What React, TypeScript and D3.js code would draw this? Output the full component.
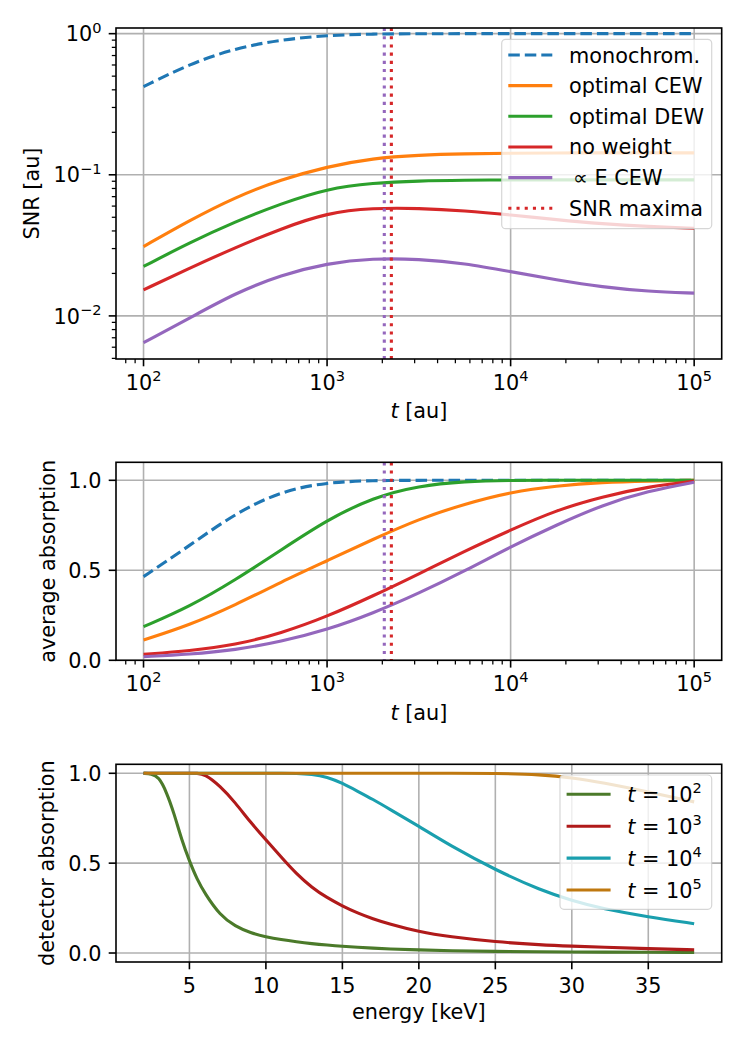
import React from "react";
import * as d3 from "d3";

const FONT = "'DejaVu Sans', sans-serif";
const FS = 20.8;
const LW = 3.1;
const GRID = "#b0b0b0";

// sample times (t in au) for the two upper panels
const tSamples = [100, 178, 316, 562, 1000, 1778, 3162, 5623, 10000, 17783, 31623, 56234, 100000];

// SNR [au]
const snrMono = [0.421, 0.61, 0.788, 0.907, 0.974, 0.995, 1.0, 1.0, 1.0, 1.0, 1.0, 1.0, 1.0];
const snrCEW = [0.031, 0.0475, 0.0695, 0.0925, 0.1143, 0.131, 0.138, 0.141, 0.142, 0.143, 0.143, 0.143, 0.143];
const snrDEW = [0.0224, 0.033, 0.0465, 0.0625, 0.0798, 0.0875, 0.0905, 0.0915, 0.092, 0.092, 0.092, 0.092, 0.092];
const snrNoWeight = [0.0153, 0.0218, 0.0305, 0.0415, 0.0538, 0.0582, 0.0579, 0.0557, 0.052, 0.048, 0.0449, 0.043, 0.0418];
const snrPropE = [0.00647, 0.00964, 0.0145, 0.0195, 0.0236, 0.0256, 0.0253, 0.0236, 0.0206, 0.018, 0.016, 0.0149, 0.0145];

// average absorption
const absMono = [0.465, 0.637, 0.817, 0.94, 0.989, 0.999, 1.0, 1.0, 1.0, 1.0, 1.0, 1.0, 1.0];
const absCEW = [0.113, 0.196, 0.307, 0.435, 0.553, 0.672, 0.785, 0.869, 0.935, 0.97, 0.989, 0.996, 1.0];
const absDEW = [0.187, 0.298, 0.446, 0.613, 0.78, 0.905, 0.97, 0.994, 1.0, 1.0, 1.0, 1.0, 1.0];
const absNoWeight = [0.033, 0.052, 0.085, 0.15, 0.243, 0.357, 0.48, 0.607, 0.724, 0.835, 0.909, 0.965, 0.996];
const absPropE = [0.02, 0.033, 0.057, 0.104, 0.169, 0.261, 0.372, 0.496, 0.631, 0.752, 0.863, 0.941, 0.989];

// positions of the SNR maxima
const maxPropE = 2050;
const maxNoWeight = 2240;

// detector absorption vs energy [keV]
const energy = [2, 2.5, 3, 3.5, 4, 4.5, 5, 5.5, 6, 7, 8, 9, 10, 11, 12, 13, 14, 15, 16, 17, 18, 20, 22, 25, 28, 30, 32, 35, 38];
const detT2 = [1.0, 0.998, 0.98, 0.896, 0.776, 0.628, 0.512, 0.41, 0.333, 0.21, 0.148, 0.112, 0.09, 0.074, 0.062, 0.052, 0.044, 0.037, 0.032, 0.027, 0.023, 0.017, 0.013, 0.009, 0.007, 0.006, 0.005, 0.004, 0.003];
const detT3 = [1, 1, 1, 1, 1, 1, 1, 1, 0.996, 0.93, 0.837, 0.726, 0.63, 0.534, 0.44, 0.365, 0.307, 0.262, 0.222, 0.19, 0.163, 0.118, 0.09, 0.062, 0.045, 0.038, 0.032, 0.024, 0.018];
const detT4 = [1, 1, 1, 1, 1, 1, 1, 1, 1, 1, 1, 1, 1, 1, 1, 0.995, 0.98, 0.945, 0.9, 0.855, 0.805, 0.705, 0.6, 0.462, 0.348, 0.292, 0.246, 0.201, 0.163];
const detT5 = [1, 1, 1, 1, 1, 1, 1, 1, 1, 1, 1, 1, 1, 1, 1, 1, 1, 1, 1, 1, 1, 1, 1, 1, 0.993, 0.976, 0.948, 0.896, 0.841];

const xTicksDecade = [100, 1000, 10000, 100000];
const ySnrTicks = [0.01, 0.1, 1];
const yLinTicks = [0, 0.5, 1];
const eTicks = [5, 10, 15, 20, 25, 30, 35];

const C = {
  blue: "#1f77b4",
  orange: "#ff7f0e",
  green: "#2ca02c",
  red: "#d62728",
  purple: "#9467bd",
  t2: "#4b7a2a",
  t3: "#b01a1a",
  t4: "#1a9fae",
  t5: "#bf780f",
};

const L = 116;
const R = 721.7;
const DASH = "11.5,5";
const DOT = "3.1,5.1";

const Pow = ({ exp }: { exp: number }) => (
  <>
    10
    <tspan dy={-0.42 * FS} fontSize={FS * 0.7}>
      {exp < 0 ? `\u2212${-exp}` : exp}
    </tspan>
  </>
);

type AxisOpts = {
  id: string;
  top: number;
  bottom: number;
  x: any;
  y: any;
  xMajor: number[];
  xMinor: number[];
  yMajor: number[];
  yMinor: number[];
  xFmt: (v: number) => React.ReactNode;
  yFmt: (v: number) => React.ReactNode;
  xLabel: React.ReactNode;
  xLabelY: number;
  yLabel: string;
  yLabelX: number;
};

function gridLayer(o: AxisOpts) {
  return (
    <g>
      {o.xMajor.map((v) => (
        <line key={"gx" + v} x1={o.x(v)} x2={o.x(v)} y1={o.top} y2={o.bottom} stroke={GRID} strokeWidth={1.6} />
      ))}
      {o.yMajor.map((v) => (
        <line key={"gy" + v} x1={L} x2={R} y1={o.y(v)} y2={o.y(v)} stroke={GRID} strokeWidth={1.6} />
      ))}
    </g>
  );
}

function axisLayer(o: AxisOpts) {
  const b = o.bottom;
  return (
    <g fontFamily={FONT} fontSize={FS} fill="#000">
      <rect x={L} y={o.top} width={R - L} height={b - o.top} fill="none" stroke="#000" strokeWidth={1.6} />
      {o.xMajor.map((v) => (
        <g key={"xt" + v}>
          <line x1={o.x(v)} x2={o.x(v)} y1={b} y2={b + 7.3} stroke="#000" strokeWidth={1.6} />
          <text x={o.x(v)} y={b + 30.5} textAnchor="middle">
            {o.xFmt(v)}
          </text>
        </g>
      ))}
      {o.xMinor.map((v) => (
        <line key={"xm" + v} x1={o.x(v)} x2={o.x(v)} y1={b} y2={b + 4.2} stroke="#000" strokeWidth={1.25} />
      ))}
      {o.yMajor.map((v) => (
        <g key={"yt" + v}>
          <line x1={L} x2={L - 7.3} y1={o.y(v)} y2={o.y(v)} stroke="#000" strokeWidth={1.6} />
          <text x={L - 14.6} y={o.y(v) + 7.6} textAnchor="end">
            {o.yFmt(v)}
          </text>
        </g>
      ))}
      {o.yMinor.map((v) => (
        <line key={"ym" + v} x1={L} x2={L - 4.2} y1={o.y(v)} y2={o.y(v)} stroke="#000" strokeWidth={1.25} />
      ))}
      <text x={(L + R) / 2} y={o.xLabelY} textAnchor="middle">
        {o.xLabel}
      </text>
      <text
        transform={`translate(${o.yLabelX},${(o.top + b) / 2}) rotate(-90)`}
        textAnchor="middle"
      >
        {o.yLabel}
      </text>
    </g>
  );
}

function path(xs: number[], ys: number[], x: any, y: any) {
  return d3
    .line<number>()
    .x((_, i) => x(xs[i]))
    .y((d) => y(d))
    .curve(d3.curveBasis)(ys) as string;
}

type LegendItem = { color: string; dash?: string; label: React.ReactNode };

function legend(x0: number, y0: number, w: number, h: number, first: number, step: number, items: LegendItem[]) {
  return (
    <g fontFamily={FONT} fontSize={FS}>
      <rect x={x0} y={y0} width={w} height={h} rx={4} fill="#fff" fillOpacity={0.8} stroke="#cccccc" strokeOpacity={0.8} strokeWidth={1.2} />
      {items.map((it, i) => {
        const yy = y0 + first + i * step;
        return (
          <g key={i}>
            <line x1={x0 + 6.6} x2={x0 + 50.6} y1={yy} y2={yy} stroke={it.color} strokeWidth={LW} strokeDasharray={it.dash} />
            <text x={x0 + 67.3} y={yy + 7.5}>
              {it.label}
            </text>
          </g>
        );
      })}
    </g>
  );
}

export default function App() {
  const xT = d3.scaleLog().domain([70.8, 141254]).range([L, R]);
  const ySnr = d3.scaleLog().domain([0.00495, 1.097]).range([359, 28]);
  const yAbs = d3.scaleLinear().domain([0, 1.1]).range([660.3, 462.3]);
  const xE = d3.scaleLinear().domain([0.2, 39.8]).range([L, R]);
  const yDet = d3.scaleLinear().domain([-0.05, 1.05]).range([962, 764.3]);

  const isDecade = (v: number) => Math.abs(Math.log10(v) - Math.round(Math.log10(v))) < 1e-9;
  const xMinorT = xT.ticks().filter((v) => !isDecade(v));
  const yMinorSnr = ySnr.ticks().filter((v) => !isDecade(v));
  const tLabel = (
    <>
      <tspan fontStyle="italic">t</tspan> [au]
    </>
  );

  const top: AxisOpts = {
    id: "snr", top: 28, bottom: 359, x: xT, y: ySnr,
    xMajor: xTicksDecade, xMinor: xMinorT, yMajor: ySnrTicks, yMinor: yMinorSnr,
    xFmt: (v) => <Pow exp={Math.round(Math.log10(v))} />,
    yFmt: (v) => <Pow exp={Math.round(Math.log10(v))} />,
    xLabel: tLabel, xLabelY: 418, yLabel: "SNR [au]", yLabelX: 39,
  };
  const mid: AxisOpts = {
    id: "abs", top: 462.3, bottom: 660.3, x: xT, y: yAbs,
    xMajor: xTicksDecade, xMinor: xMinorT, yMajor: yLinTicks, yMinor: [],
    xFmt: (v) => <Pow exp={Math.round(Math.log10(v))} />,
    yFmt: (v) => d3.format(".1f")(v),
    xLabel: tLabel, xLabelY: 719.5, yLabel: "average absorption", yLabelX: 55,
  };
  const bot: AxisOpts = {
    id: "det", top: 764.3, bottom: 962, x: xE, y: yDet,
    xMajor: eTicks, xMinor: [], yMajor: yLinTicks, yMinor: [],
    xFmt: (v) => String(v),
    yFmt: (v) => d3.format(".1f")(v),
    xLabel: "energy [keV]", xLabelY: 1019, yLabel: "detector absorption", yLabelX: 54,
  };

  const snrSeries = [
    { v: snrMono, c: C.blue, dash: DASH },
    { v: snrCEW, c: C.orange },
    { v: snrDEW, c: C.green },
    { v: snrNoWeight, c: C.red },
    { v: snrPropE, c: C.purple },
  ];
  const absSeries = [
    { v: absMono, c: C.blue, dash: DASH },
    { v: absCEW, c: C.orange },
    { v: absDEW, c: C.green },
    { v: absNoWeight, c: C.red },
    { v: absPropE, c: C.purple },
  ];
  const detSeries = [
    { v: detT2, c: C.t2, e: 2 },
    { v: detT3, c: C.t3, e: 3 },
    { v: detT4, c: C.t4, e: 4 },
    { v: detT5, c: C.t5, e: 5 },
  ];

  const vlines = (o: AxisOpts) => (
    <g>
      <line x1={xT(maxPropE)} x2={xT(maxPropE)} y1={o.top} y2={o.bottom} stroke={C.purple} strokeWidth={LW} strokeDasharray={DOT} />
      <line x1={xT(maxNoWeight)} x2={xT(maxNoWeight)} y1={o.top} y2={o.bottom} stroke={C.red} strokeWidth={LW} strokeDasharray={DOT} />
    </g>
  );

  return (
    <svg width={750} height={1050} style={{ position: "absolute", left: 0, top: 0 }}>
      <rect width={750} height={1050} fill="#fff" />
      <defs>
        {[top, mid, bot].map((o) => (
          <clipPath id={"clip-" + o.id} key={o.id}>
            <rect x={L} y={o.top} width={R - L} height={o.bottom - o.top} />
          </clipPath>
        ))}
      </defs>

      {/* SNR panel */}
      {gridLayer(top)}
      <g clipPath="url(#clip-snr)" fill="none">
        {snrSeries.map((s, i) => (
          <path key={i} d={path(tSamples, s.v, xT, ySnr)} stroke={s.c} strokeWidth={LW} strokeDasharray={s.dash} />
        ))}
        {vlines(top)}
      </g>
      {axisLayer(top)}
      {legend(501.7, 39.3, 210, 189.4, 15.7, 30.66, [
        { color: C.blue, dash: DASH, label: "monochrom." },
        { color: C.orange, label: "optimal CEW" },
        { color: C.green, label: "optimal DEW" },
        { color: C.red, label: "no weight" },
        { color: C.purple, label: <tspan dx={4}>∝ E CEW</tspan> },
        { color: C.red, dash: DOT, label: "SNR maxima" },
      ])}

      {/* average absorption panel */}
      {gridLayer(mid)}
      <g clipPath="url(#clip-abs)" fill="none">
        {absSeries.map((s, i) => (
          <path key={i} d={path(tSamples, s.v, xT, yAbs)} stroke={s.c} strokeWidth={LW} strokeDasharray={s.dash} />
        ))}
        {vlines(mid)}
      </g>
      {axisLayer(mid)}

      {/* detector absorption panel */}
      {gridLayer(bot)}
      <g clipPath="url(#clip-det)" fill="none">
        {detSeries.map((s, i) => (
          <path key={i} d={path(energy, s.v, xE, yDet)} stroke={s.c} strokeWidth={LW} />
        ))}
      </g>
      {axisLayer(bot)}
      {legend(560, 775, 151.7, 134.3, 19.3, 31.9,
        detSeries.map((s) => ({
          color: s.c,
          label: (
            <>
              <tspan fontStyle="italic">t</tspan> = <Pow exp={s.e} />
            </>
          ),
        }))
      )}
    </svg>
  );
}
